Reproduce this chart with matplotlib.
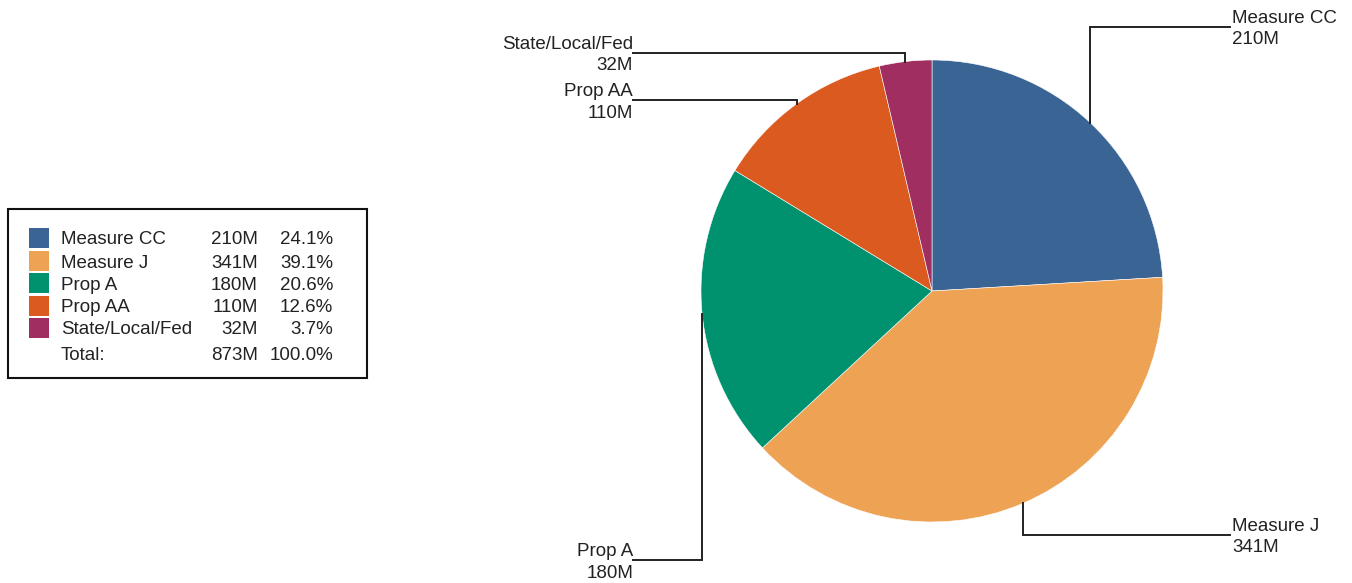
import numpy as np
import matplotlib
matplotlib.use('Agg')
import matplotlib.pyplot as plt
from matplotlib.patches import Rectangle

# Datos del grafico
categorias = ['Measure CC', 'Measure J', 'Prop A', 'Prop AA', 'State/Local/Fed']
valores = [210, 341, 180, 110, 32]
colores = ['#3A6494', '#EEA254', '#00916E', '#DB5A20', '#A02E60']

# Posicion de las etiquetas (pixeles): lado, altura de la linea guia
lado_etiqueta = ['right', 'right', 'left', 'left', 'left']
y_linea = [27, 535, 560, 100, 53]

W, H = 1352, 583
plt.rcParams['font.family'] = ['Liberation Sans', 'DejaVu Sans']
fs = 13.5

fig = plt.figure(figsize=(W / 100, H / 100), dpi=100)
ax = fig.add_axes([0, 0, 1, 1])

cx, cy, r = 932, H - 291, 231
wedges, _ = ax.pie(valores, colors=colores, startangle=90, counterclock=False,
                   center=(cx, cy), radius=r, frame=True,
                   wedgeprops=dict(edgecolor='white', linewidth=0.4))
ax.set_xlim(0, W)
ax.set_ylim(0, H)
ax.axis('off')

# Lineas guia y etiquetas
for w, nombre, val, lado, yl in zip(wedges, categorias, valores, lado_etiqueta, y_linea):
    ang = np.deg2rad((w.theta1 + w.theta2) / 2)
    px = cx + r * np.cos(ang)
    py = cy + r * np.sin(ang)
    ly = H - yl
    if lado == 'right':
        lx = 1230
        tx, ha = 1232, 'left'
    else:
        lx = 633
        tx, ha = 633, 'right'
    ax.plot([px, px, lx], [py, ly, ly], color='#222222', lw=1.4, solid_joinstyle='miter')
    ax.text(tx, ly + 8.5, nombre, ha=ha, va='center', fontsize=fs, color='#222222')
    ax.text(tx, ly - 13, f'{val}M', ha=ha, va='center', fontsize=fs, color='#222222')

# Leyenda con tabla de valores
total = sum(valores)
ax.add_patch(Rectangle((8, H - 378), 359, 169, fill=False, edgecolor='#111111', lw=1.5))
filas_y = [238, 261, 283, 306, 328]
for yy, nombre, val, col in zip(filas_y, categorias, valores, colores):
    y = H - yy
    ax.add_patch(Rectangle((29, y - 10), 20, 20, facecolor=col, edgecolor='none'))
    y -= 2
    ax.text(61, y, nombre, ha='left', va='center', fontsize=fs, color='#222222')
    ax.text(258, y, f'{val}M', ha='right', va='center', fontsize=fs, color='#222222')
    ax.text(333, y, f'{val / total * 100:.1f}%', ha='right', va='center', fontsize=fs, color='#222222')
y = H - 356
ax.text(61, y, 'Total:', ha='left', va='center', fontsize=fs, color='#222222')
ax.text(258, y, f'{total}M', ha='right', va='center', fontsize=fs, color='#222222')
ax.text(333, y, '100.0%', ha='right', va='center', fontsize=fs, color='#222222')

fig.savefig('out.png', dpi=100)
